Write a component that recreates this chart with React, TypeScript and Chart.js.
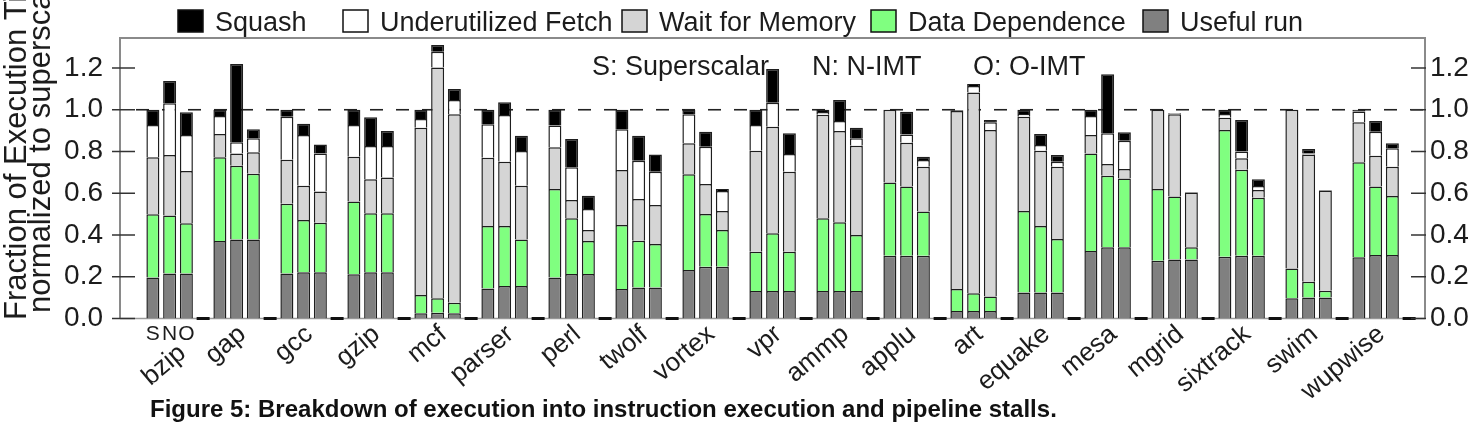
import React, { useEffect, useRef } from 'react';
import { Chart, registerables } from 'chart.js';

Chart.register(...registerables);

// Benchmarks along the x axis
const benchmarks = [
  'bzip', 'gap', 'gcc', 'gzip', 'mcf', 'parser', 'perl', 'twolf', 'vortex', 'vpr',
  'ammp', 'applu', 'art', 'equake', 'mesa', 'mgrid', 'sixtrack', 'swim', 'wupwise',
];

// Three machine configurations, one stacked bar each per benchmark
const configLetters = ['S', 'N', 'O'];
const configNotes = ['S: Superscalar', 'N: N-IMT', 'O: O-IMT'];

// Stack segments, bottom to top
const segmentNames = ['Useful run', 'Data Dependence', 'Wait for Memory', 'Underutilized Fetch', 'Squash'];
const segmentColors = ['#808080', '#80ff80', '#d5d5d5', '#ffffff', '#000000'];

const yTicks = [0, 0.2, 0.4, 0.6, 0.8, 1.0, 1.2];

// Superscalar (S)
const usefulS = [0.196, 0.371, 0.215, 0.212, 0.025, 0.144, 0.197, 0.141, 0.232, 0.132, 0.132, 0.301, 0.036, 0.124, 0.323, 0.277, 0.296, 0.097, 0.293];
const depS    = [0.303, 0.401, 0.335, 0.348, 0.088, 0.299, 0.423, 0.307, 0.459, 0.188, 0.348, 0.350, 0.105, 0.391, 0.468, 0.343, 0.607, 0.143, 0.455];
const memS    = [0.273, 0.112, 0.211, 0.215, 0.801, 0.327, 0.200, 0.263, 0.148, 0.484, 0.496, 0.349, 0.853, 0.452, 0.088, 0.380, 0.059, 0.760, 0.192];
const fetchS  = [0.155, 0.086, 0.206, 0.152, 0.042, 0.160, 0.104, 0.195, 0.139, 0.123, 0.013, 0.000, 0.000, 0.013, 0.091, 0.000, 0.018, 0.000, 0.052];
const squashS = [0.073, 0.030, 0.033, 0.073, 0.044, 0.070, 0.076, 0.094, 0.022, 0.073, 0.011, 0.000, 0.004, 0.020, 0.030, 0.000, 0.020, 0.000, 0.008];

// N-IMT (N)
const usefulN = [0.215, 0.379, 0.221, 0.221, 0.028, 0.156, 0.213, 0.149, 0.248, 0.132, 0.132, 0.301, 0.036, 0.124, 0.341, 0.283, 0.301, 0.101, 0.304];
const depN    = [0.279, 0.353, 0.251, 0.283, 0.069, 0.287, 0.267, 0.224, 0.253, 0.276, 0.329, 0.331, 0.085, 0.319, 0.343, 0.301, 0.411, 0.075, 0.328];
const memN    = [0.289, 0.059, 0.164, 0.163, 1.105, 0.308, 0.088, 0.199, 0.143, 0.511, 0.437, 0.210, 0.962, 0.361, 0.056, 0.394, 0.056, 0.610, 0.148];
const fetchN  = [0.248, 0.053, 0.243, 0.159, 0.076, 0.224, 0.156, 0.184, 0.179, 0.115, 0.048, 0.040, 0.031, 0.027, 0.147, 0.005, 0.032, 0.005, 0.115];
const squashN = [0.107, 0.375, 0.054, 0.138, 0.032, 0.061, 0.136, 0.120, 0.072, 0.161, 0.101, 0.109, 0.009, 0.053, 0.283, 0.000, 0.151, 0.021, 0.051];

// O-IMT (O)
const usefulO = [0.215, 0.379, 0.221, 0.221, 0.025, 0.156, 0.213, 0.149, 0.248, 0.132, 0.132, 0.301, 0.036, 0.124, 0.341, 0.283, 0.301, 0.101, 0.304];
const depO    = [0.241, 0.315, 0.238, 0.283, 0.051, 0.223, 0.158, 0.208, 0.176, 0.188, 0.268, 0.211, 0.069, 0.257, 0.330, 0.058, 0.278, 0.032, 0.283];
const memO    = [0.251, 0.102, 0.149, 0.171, 0.902, 0.257, 0.053, 0.187, 0.091, 0.383, 0.428, 0.215, 0.798, 0.346, 0.045, 0.262, 0.037, 0.480, 0.140];
const fetchO  = [0.172, 0.067, 0.183, 0.151, 0.069, 0.166, 0.101, 0.159, 0.096, 0.085, 0.035, 0.032, 0.037, 0.024, 0.136, 0.000, 0.019, 0.000, 0.088];
const squashO = [0.109, 0.043, 0.043, 0.072, 0.052, 0.074, 0.063, 0.083, 0.009, 0.099, 0.051, 0.016, 0.011, 0.032, 0.040, 0.003, 0.032, 0.003, 0.024];

const seriesByConfig = [
  [usefulS, depS, memS, fetchS, squashS],
  [usefulN, depN, memN, fetchN, squashN],
  [usefulO, depO, memO, fetchO, squashO],
];

const FONT = "'Liberation Sans', Arial, Helvetica, sans-serif";
const TEXT = '#1c1c1c';

// x range in benchmark units (group centre = index)
const X_MIN = -0.8657;
const X_MAX = 18.612;
const Y_MAX = 1.3437;

function buildDatasets() {
  const sets: any[] = [];
  seriesByConfig.forEach((series, c) => {
    series.forEach((vals, s) => {
      sets.push({
        label: segmentNames[s],
        stack: configLetters[c],
        data: vals.map((v, i) => ({ x: i, y: v })),
        backgroundColor: segmentColors[s],
        borderColor: '#1e1e1e',
        borderWidth: 1.5,
        borderSkipped: 'start',
        categoryPercentage: 1,
        barPercentage: 0.776,
      });
    });
  });
  // empty fourth slot in every group, marked on the baseline
  sets.push({
    label: 'spacer',
    stack: 'G',
    data: benchmarks.map((_, i) => ({ x: i, y: 0 })),
    backgroundColor: 'rgba(0,0,0,0)',
    borderWidth: 0,
    categoryPercentage: 1,
    barPercentage: 0.776,
  });
  return sets;
}

function strokeLine(ctx: CanvasRenderingContext2D, x1: number, y1: number, x2: number, y2: number) {
  ctx.beginPath();
  ctx.moveTo(x1, y1);
  ctx.lineTo(x2, y2);
  ctx.stroke();
}

const decorations = {
  id: 'decorations',
  beforeDatasetsDraw(chart: any) {
    const { ctx, chartArea: a, scales } = chart;
    const y = scales.y;
    const y0 = y.getPixelForValue(0);
    const y1 = y.getPixelForValue(1);
    ctx.save();
    ctx.strokeStyle = '#9a9a9a';
    ctx.lineWidth = 1.5;
    strokeLine(ctx, a.left, y0, a.right, y0);
    ctx.setLineDash([13, 13]);
    ctx.strokeStyle = '#222';
    ctx.lineWidth = 1.6;
    strokeLine(ctx, a.left + 16, y1, a.right, y1);
    ctx.restore();
  },
  afterDatasetsDraw(chart: any) {
    const { ctx, chartArea: a, scales } = chart;
    const y = scales.y;
    const y0 = y.getPixelForValue(0);
    ctx.save();

    // baseline marks for the empty slot of each group
    const spacer = chart.getDatasetMeta(chart.data.datasets.length - 1);
    ctx.strokeStyle = '#111';
    ctx.lineWidth = 3;
    spacer.data.forEach((el: any) => {
      strokeLine(ctx, el.x - el.width / 2, y0, el.x + el.width / 2, y0);
    });

    // frame
    ctx.strokeStyle = '#8a8a8a';
    ctx.lineWidth = 2;
    ctx.beginPath();
    ctx.moveTo(a.left, y0);
    ctx.lineTo(a.left, a.top);
    ctx.lineTo(a.right, a.top);
    ctx.lineTo(a.right, y0);
    ctx.stroke();

    // tick marks crossing the left and right axes
    ctx.strokeStyle = '#333';
    ctx.lineWidth = 1.5;
    yTicks.forEach((v) => {
      const py = y.getPixelForValue(v);
      strokeLine(ctx, a.left - 8, py, a.left + 15, py);
      strokeLine(ctx, a.right - 14, py, a.right + 1, py);
    });

    // configuration key inside the plot
    ctx.fillStyle = TEXT;
    ctx.font = `27px ${FONT}`;
    ctx.textAlign = 'left';
    ctx.textBaseline = 'alphabetic';
    const noteX = [592, 812, 973];
    configNotes.forEach((t, i) => ctx.fillText(t, noteX[i], 75));

    // S / N / O under the first group
    ctx.font = `21px ${FONT}`;
    ctx.textAlign = 'center';
    configLetters.forEach((l, c) => {
      const el = chart.getDatasetMeta(c * 5).data[0];
      ctx.fillText(l, el.x, y0 + 21);
    });

    // rotated benchmark names
    const xs = scales.x;
    ctx.font = `26px ${FONT}`;
    ctx.textAlign = 'right';
    benchmarks.forEach((b, i) => {
      const cx = xs.getPixelForValue(i);
      const first = i === 0;
      ctx.save();
      ctx.translate(cx + (first ? 9 : 2), y0 + (first ? 37 : 18));
      ctx.rotate((-40 * Math.PI) / 180);
      ctx.fillText(b, 0, 0);
      ctx.restore();
    });

    // legend
    const legendOrder = [4, 3, 2, 1, 0];
    const boxX = [178, 343, 622, 871, 1143];
    ctx.font = `27px ${FONT}`;
    ctx.textAlign = 'left';
    legendOrder.forEach((s, k) => {
      ctx.fillStyle = segmentColors[s];
      ctx.fillRect(boxX[k], 10, 25, 22);
      ctx.strokeStyle = '#111';
      ctx.lineWidth = 1.5;
      ctx.strokeRect(boxX[k], 10, 25, 22);
      ctx.fillStyle = TEXT;
      ctx.fillText(segmentNames[s], boxX[k] + 37, 31);
    });

    // y axis title, two rotated lines
    ctx.font = `31px ${FONT}`;
    ctx.textAlign = 'left';
    ctx.fillStyle = TEXT;
    ctx.save();
    ctx.translate(26, 320);
    ctx.rotate(-Math.PI / 2);
    ctx.fillText('Fraction of Execution Time', 0, 0);
    ctx.restore();
    ctx.save();
    ctx.translate(50, 313);
    ctx.rotate(-Math.PI / 2);
    ctx.fillText('normalized to superscalar', 0, 0);
    ctx.restore();

    // caption
    ctx.font = `bold 24px ${FONT}`;
    ctx.textAlign = 'left';
    ctx.fillStyle = '#111';
    ctx.fillText('Figure 5: Breakdown of execution into instruction execution and pipeline stalls.', 150, 417);

    ctx.restore();
  },
};

export default function App() {
  const canvasRef = useRef<HTMLCanvasElement | null>(null);

  useEffect(() => {
    document.body.style.margin = '0';
    const canvas = canvasRef.current;
    if (!canvas) return;
    const tickFont = { family: FONT, size: 28 };
    const pinX = (s: any) => {
      s.min = X_MIN;
      s.max = X_MAX;
    };
    const chart = new Chart(canvas, {
      type: 'bar',
      data: { datasets: buildDatasets() },
      options: {
        responsive: false,
        animation: false,
        devicePixelRatio: 1,
        layout: { padding: { top: 38, bottom: 106.5, left: 0, right: 0 } },
        plugins: { legend: { display: false }, tooltip: { enabled: false } },
        scales: {
          x: {
            type: 'linear',
            min: X_MIN,
            max: X_MAX,
            bounds: 'data',
            offset: false,
            display: false,
            stacked: true,
            afterDataLimits: pinX,
            afterBuildTicks: (s: any) => {
              s.ticks = benchmarks.map((_, i) => ({ value: i }));
              pinX(s);
            },
          },
          y: {
            position: 'left',
            stacked: true,
            min: 0,
            max: Y_MAX,
            grid: { display: false },
            border: { display: false },
            ticks: {
              stepSize: 0.2,
              includeBounds: false,
              padding: 9,
              color: TEXT,
              font: tickFont,
              callback: (v: any) => Number(v).toFixed(1),
            },
            afterFit: (s: any) => { s.width = 120; },
          },
          y2: {
            position: 'right',
            min: 0,
            max: Y_MAX,
            grid: { display: false },
            border: { display: false },
            ticks: {
              stepSize: 0.2,
              includeBounds: false,
              padding: -3,
              color: TEXT,
              font: tickFont,
              callback: (v: any) => Number(v).toFixed(1),
            },
            afterFit: (s: any) => { s.width = 51; },
          },
        },
      } as any,
      plugins: [decorations],
    });
    return () => chart.destroy();
  }, []);

  return (
    <div style={{ width: 1476, height: 425, background: '#fff' }}>
      <canvas ref={canvasRef} width={1476} height={425} style={{ display: 'block' }} />
    </div>
  );
}
